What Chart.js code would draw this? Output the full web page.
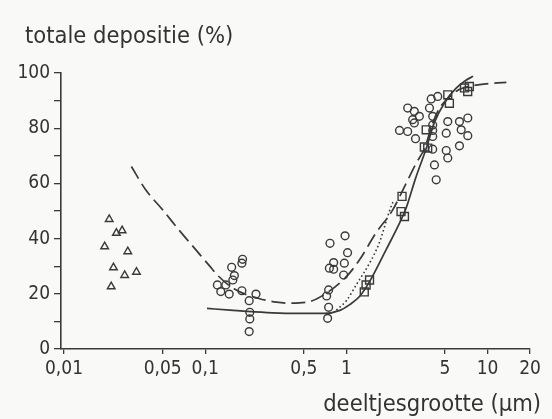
<!DOCTYPE html>
<html>
<head>
<meta charset="utf-8">
<script src="https://cdn.jsdelivr.net/npm/chart.js@4/dist/chart.umd.min.js"></script>
<style>
  html, body { margin: 0; padding: 0; background: #f9f9f7; }
  #wrap { width: 552px; height: 419px; }
</style>
</head>
<body>
<div id="wrap"><canvas id="c" width="552" height="419"></canvas></div>
<script>
// Particle size (µm) vs total deposition (%)
const xTickValues = [0.01, 0.05, 0.1, 0.5, 1, 5, 10, 20];
const xTickLabels = ['0,01', '0,05', '0,1', '0,5', '1', '5', '10', '20'];

// Measurements: triangles
const triX = [0.0209, 0.0235, 0.0258, 0.0194, 0.0283, 0.0224, 0.0269, 0.0326, 0.0216];
const triY = [47.0, 42.0, 42.9, 37.1, 35.3, 29.5, 26.7, 27.9, 22.6];

// Measurements: circles
const circX = [0.184, 0.182, 0.154, 0.161, 0.157, 0.122, 0.140, 0.129, 0.148, 0.182, 0.229, 0.205, 0.207, 0.207, 0.205,
               0.766, 0.979, 1.02, 0.813, 0.758, 0.813, 0.968, 0.957, 0.749, 0.725, 0.749, 0.737,
               2.72, 3.03, 2.95, 3.29, 3.03, 2.38, 2.72, 3.09, 3.99, 4.44, 3.88, 4.09, 4.09, 4.09, 4.09, 4.09,
               5.23, 5.10, 5.10, 5.23, 4.21, 4.33, 6.33, 7.25, 6.51, 7.25, 6.33];
const circY = [32.5, 31.1, 29.6, 26.6, 25.0, 23.2, 23.2, 20.8, 19.9, 21.1, 19.9, 17.5, 13.3, 10.9, 6.3,
               38.3, 41.0, 34.9, 31.3, 29.3, 28.9, 31.1, 26.8, 21.4, 19.2, 15.1, 11.1,
               87.3, 86.1, 83.1, 84.3, 81.9, 79.2, 78.8, 76.2, 90.6, 91.5, 87.3, 84.3, 81.2, 79.2, 77.0, 72.4,
               82.4, 78.2, 71.9, 69.2, 66.7, 61.3, 82.4, 83.7, 79.4, 77.3, 73.6];

// Measurements: squares
const sqX = [1.46, 1.38, 1.34, 2.48, 2.44, 2.58, 3.68, 3.57, 3.77, 5.23, 5.37, 6.87, 7.44, 7.24];
const sqY = [25.0, 23.2, 20.7, 55.3, 49.8, 48.0, 79.4, 73.2, 72.8, 92.1, 89.0, 94.6, 95.1, 93.3];

// Curves
const dashX = [0.030, 0.038, 0.050, 0.065, 0.086, 0.107, 0.122, 0.16, 0.24, 0.32, 0.40, 0.55, 0.72, 1.0, 1.24, 1.62, 2.13, 2.65, 3.1, 3.6, 4.1, 4.6, 5.3, 6.3, 8.8, 13.6];
const dashY = [66.1, 57.6, 50.4, 43.2, 35.9, 30.2, 26.8, 21.8, 18.3, 17.0, 16.6, 17.2, 20.2, 26.2, 32.3, 42.0, 50.4, 60.0, 67.0, 73.0, 82.0, 87.5, 91.0, 94.0, 95.8, 96.6];

const solidX = [0.103, 0.15, 0.2, 0.3, 0.45, 0.7, 0.9, 1.05, 1.24, 1.46, 1.91, 2.38, 2.65, 3.1, 3.7, 4.2, 5.0, 6.0, 7.0, 7.9];
const solidY = [14.7, 14.1, 13.6, 13.1, 12.9, 12.9, 14.0, 16.0, 19.0, 24.4, 35.9, 45.6, 51.0, 62.0, 73.0, 82.0, 89.5, 94.5, 97.3, 98.8];

const dotX = [0.85, 1.0, 1.2, 1.46, 1.71, 2.02, 2.15];
const dotY = [14.1, 17.5, 24.0, 31.1, 38.4, 50.0, 53.5];

const yTitle = 'totale depositie (%)';
const xTitle = 'deeltjesgrootte (µm)';

const INK = '#3a3a3a';
const BG = '#f9f9f7';
const FONT = '"DejaVu Sans Condensed", "DejaVu Sans", sans-serif';

const zip = (xs, ys) => xs.map((x, i) => ({ x: x, y: ys[i] }));

const markerBase = {
  showLine: false,
  borderColor: INK,
  backgroundColor: 'rgba(0,0,0,0)',
  borderWidth: 1.4,
  pointHoverRadius: 0
};
const curveBase = {
  showLine: true,
  borderColor: INK,
  backgroundColor: 'rgba(0,0,0,0)',
  borderWidth: 1.7,
  pointRadius: 0,
  pointHoverRadius: 0,
  cubicInterpolationMode: 'monotone',
  fill: false
};

const background = {
  id: 'background',
  beforeDraw(chart) {
    const ctx = chart.ctx;
    ctx.save();
    ctx.fillStyle = BG;
    ctx.fillRect(0, 0, chart.width, chart.height);
    ctx.restore();
  }
};

// Axis captions: value caption above the y axis, size caption under the x axis at the right
const captions = {
  id: 'captions',
  afterDraw(chart) {
    const ctx = chart.ctx;
    ctx.save();
    ctx.fillStyle = '#333';
    ctx.textBaseline = 'alphabetic';
    const fit = (text, target, base) => {
      ctx.font = base + 'px ' + FONT;
      const w = ctx.measureText(text).width;
      const size = Math.max(17, Math.min(24, base * target / w));
      ctx.font = size.toFixed(1) + 'px ' + FONT;
    };
    fit(yTitle, 208, 21);
    ctx.textAlign = 'left';
    ctx.fillText(yTitle, 25, 43);
    fit(xTitle, 218, 21);
    ctx.textAlign = 'right';
    ctx.fillText(xTitle, 541, 411);
    ctx.restore();
  }
};

new Chart(document.getElementById('c'), {
  type: 'scatter',
  data: {
    datasets: [
      Object.assign({}, markerBase, { label: 'triangles', data: zip(triX, triY), pointStyle: 'triangle', pointRadius: 4.4 }),
      Object.assign({}, markerBase, { label: 'circles', data: zip(circX, circY), pointStyle: 'circle', pointRadius: 3.9 }),
      Object.assign({}, markerBase, { label: 'squares', data: zip(sqX, sqY), pointStyle: 'rect', pointRadius: 5.6 }),
      Object.assign({}, curveBase, { label: 'dashed', data: zip(dashX, dashY), borderDash: [14, 6] }),
      Object.assign({}, curveBase, { label: 'solid', data: zip(solidX, solidY) }),
      Object.assign({}, curveBase, { label: 'dotted', data: zip(dotX, dotY), borderDash: [1.6, 2.6], borderWidth: 1.6 })
    ]
  },
  options: {
    responsive: false,
    animation: false,
    events: [],
    layout: { padding: { top: 73, right: 22, left: 0, bottom: 0 } },
    plugins: {
      legend: { display: false },
      tooltip: { enabled: false },
      title: { display: false }
    },
    scales: {
      x: {
        type: 'logarithmic',
        min: 0.00952,
        max: 20,
        afterFit(s) { s.height = 70; },
        afterBuildTicks(s) { s.ticks = xTickValues.map(v => ({ value: v })); },
        border: { display: true, color: INK, width: 1.6 },
        grid: { display: true, drawOnChartArea: false, drawTicks: true, tickLength: 5, color: INK, lineWidth: 1.3 },
        ticks: {
          autoSkip: false,
          maxRotation: 0,
          padding: 4,
          color: '#333',
          font: { family: FONT, size: 19 },
          callback(v) {
            const i = xTickValues.indexOf(v);
            return i >= 0 ? xTickLabels[i] : '';
          }
        }
      },
      y: {
        type: 'linear',
        min: 0,
        max: 100,
        afterFit(s) { s.width = 61; },
        border: { display: true, color: INK, width: 1.6 },
        grid: { display: true, drawOnChartArea: false, drawTicks: true, tickLength: 7, color: INK, lineWidth: 1.3 },
        ticks: {
          stepSize: 10,
          autoSkip: false,
          padding: 4,
          color: '#333',
          font: { family: FONT, size: 19 },
          callback(v) { return v % 20 === 0 ? String(v) : ''; }
        }
      }
    }
  },
  plugins: [background, captions]
});
</script>
</body>
</html>
